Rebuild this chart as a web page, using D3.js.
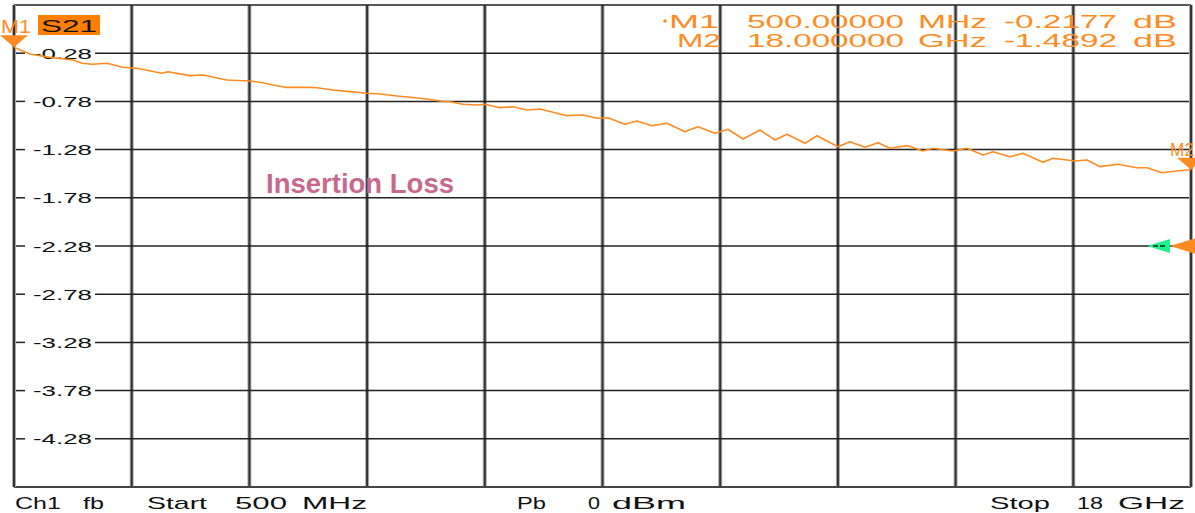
<!DOCTYPE html>
<html>
<head>
<meta charset="utf-8">
<script src="https://cdn.jsdelivr.net/npm/d3@7"></script>
<style>
  html, body { margin: 0; padding: 0; background: #fff; }
  svg { display: block; font-family: "Liberation Sans", Arial, sans-serif; }
</style>
</head>
<body>
<svg id="svg1" width="1195" height="513"></svg>
<script>
// trace: frequency (GHz) / S21 (dB)
const freqs = [0.5, 0.738, 1.035, 1.377, 1.511, 1.660, 1.883, 2.121, 2.329, 2.700, 2.790, 3.117, 3.310, 3.667, 4.009, 4.202, 4.351, 4.529, 4.901, 5.005,
  5.243, 5.496, 5.748, 5.942, 6.194, 6.388, 6.640, 6.834, 6.982, 7.176, 7.384, 7.503, 7.726, 7.919, 8.127, 8.321, 8.573, 8.722, 8.960, 9.168,
  9.332, 9.584, 9.763, 9.986, 10.209, 10.476, 10.670, 10.922, 11.116, 11.339, 11.592, 11.815, 11.993, 12.261, 12.439, 12.751, 12.930, 13.153, 13.346, 13.524,
  13.792, 14.015, 14.164, 14.461, 14.669, 14.907, 15.056, 15.309, 15.502, 15.799, 15.948, 16.275, 16.453, 16.647, 16.914, 17.197, 17.345, 17.568, 17.791, 18.0];
const s21 = [-0.2177, -0.288, -0.323, -0.351, -0.385, -0.395, -0.385, -0.426, -0.437, -0.488, -0.472, -0.513, -0.506, -0.558, -0.568, -0.586, -0.610, -0.634, -0.634, -0.638,
  -0.662, -0.679, -0.696, -0.703, -0.724, -0.737, -0.755, -0.776, -0.783, -0.810, -0.817, -0.810, -0.845, -0.835, -0.869, -0.859, -0.903, -0.928, -0.921, -0.955,
  -0.949, -1.018, -0.983, -1.032, -1.007, -1.094, -1.042, -1.111, -1.069, -1.170, -1.077, -1.180, -1.121, -1.215, -1.136, -1.250, -1.198, -1.256, -1.208, -1.266,
  -1.239, -1.294, -1.266, -1.294, -1.266, -1.336, -1.302, -1.354, -1.318, -1.412, -1.370, -1.398, -1.388, -1.457, -1.432, -1.468, -1.468, -1.520, -1.502, -1.4892];

const yTicks = [-0.28, -0.78, -1.28, -1.78, -2.28, -2.78, -3.28, -3.78, -4.28];
const yTickLabels = ['-0.28', '-0.78', '-1.28', '-1.78', '-2.28', '-2.78', '-3.28', '-3.78', '-4.28'];
const xGrid = [2.25, 4.0, 5.75, 7.5, 9.25, 11.0, 12.75, 14.5, 16.25];

const markers = [
  {name: 'M1', f: 0.5, db: -0.2177, fText: '500.00000', unit: 'MHz', dbText: '-0.2177'},
  {name: 'M2', f: 18.0, db: -1.4892, fText: '18.000000', unit: 'GHz', dbText: '-1.4892'}
];
const refLevel = -2.28;

const orange = '#ff8c22';
const svg = d3.select('#svg1');

const xScale = d3.scaleLinear().domain([0.5, 18]).range([14, 1191]);
const yScale = d3.scaleLinear().domain([0.22, -4.78]).range([5, 487]);

// vertical grid (thick grey with halo)
svg.append('g')
  .selectAll('line')
  .data(xGrid)
  .join('line')
  .attr('x1', d => xScale(d)).attr('x2', d => xScale(d))
  .attr('y1', yScale(0.22)).attr('y2', yScale(-4.78))
  .attr('stroke', '#aaa').attr('stroke-width', 4);
svg.append('g')
  .selectAll('line')
  .data(xGrid)
  .join('line')
  .attr('x1', d => xScale(d)).attr('x2', d => xScale(d))
  .attr('y1', yScale(0.22)).attr('y2', yScale(-4.78))
  .attr('stroke', '#333').attr('stroke-width', 2);

// horizontal grid, broken where the label sits
const hGrid = svg.append('g');
hGrid.selectAll('.tickL')
  .data(yTicks)
  .join('line')
  .attr('x1', 14).attr('x2', 25)
  .attr('y1', d => yScale(d)).attr('y2', d => yScale(d))
  .attr('stroke', '#222').attr('stroke-width', 1.5);
hGrid.selectAll('.tickR')
  .data(yTicks)
  .join('line')
  .attr('x1', 95).attr('x2', 1191)
  .attr('y1', d => yScale(d)).attr('y2', d => yScale(d))
  .attr('stroke', '#222').attr('stroke-width', 1.5);
hGrid.selectAll('text')
  .data(yTicks)
  .join('text')
  .attr('x', 33)
  .attr('y', d => yScale(d) + 5.5)
  .attr('textLength', 59)
  .attr('lengthAdjust', 'spacingAndGlyphs')
  .style('font-size', '15px')
  .style('fill', '#111')
  .text((d, i) => yTickLabels[i]);

// frame
svg.append('line').attr('x1', 14).attr('x2', 1191).attr('y1', 5).attr('y2', 5)
  .attr('stroke', '#222').attr('stroke-width', 1.5);
svg.append('line').attr('x1', 14).attr('x2', 1191).attr('y1', 487).attr('y2', 487)
  .attr('stroke', '#444').attr('stroke-width', 2);
[14, 1191].forEach(x => {
  svg.append('line').attr('x1', x).attr('x2', x).attr('y1', 5).attr('y2', 487)
    .attr('stroke', '#aaa').attr('stroke-width', 4);
  svg.append('line').attr('x1', x).attr('x2', x).attr('y1', 5).attr('y2', 487)
    .attr('stroke', '#333').attr('stroke-width', 2);
});

// trace
const line = d3.line()
  .x((d, i) => xScale(freqs[i]))
  .y(d => yScale(d));
svg.append('path')
  .datum(s21)
  .attr('d', line)
  .attr('fill', 'none')
  .attr('stroke', orange)
  .attr('stroke-width', 1.6)
  .attr('stroke-linejoin', 'round');

// label in plot
svg.append('text')
  .attr('x', 266).attr('y', 193)
  .attr('textLength', 188).attr('lengthAdjust', 'spacingAndGlyphs')
  .style('font-size', '27px').style('font-weight', 'bold')
  .style('fill', '#c8688a')
  .text('Insertion Loss');

// reference level arrows on right edge
const ry = yScale(refLevel);
svg.append('path')
  .attr('d', `M1147,${ry} L1170,${ry - 7} L1170,${ry + 7} Z`)
  .attr('fill', '#1ef08a');
svg.append('line').attr('x1', 1153).attr('x2', 1165).attr('y1', ry).attr('y2', ry)
  .attr('stroke', '#222').attr('stroke-width', 1.5).attr('stroke-dasharray', '5,2');
svg.append('path')
  .attr('d', `M1170,${ry} L1196,${ry - 8} L1196,${ry + 8} Z`)
  .attr('fill', orange);

// marker triangles + names (kept just inside the window)
markers.forEach((m, i) => {
  const mx = xScale(m.f), my = yScale(m.db);
  svg.append('path')
    .attr('d', `M${mx - 14},${my - 12} L${mx + 14},${my - 12} L${mx},${my} Z`)
    .attr('fill', orange);
  svg.append('text')
    .attr('x', i === 0 ? 1 : 1170).attr('y', my - 14)
    .attr('textLength', i === 0 ? 30 : 24).attr('lengthAdjust', 'spacingAndGlyphs')
    .style('font-size', '18px')
    .style('fill', orange)
    .text(m.name);
});

// S21 badge
svg.append('rect').attr('x', 38).attr('y', 15).attr('width', 62).attr('height', 20).attr('fill', '#ff8000');
svg.append('text').attr('x', 41).attr('y', 32)
  .attr('textLength', 56).attr('lengthAdjust', 'spacingAndGlyphs')
  .style('font-size', '17px').style('fill', '#111')
  .text('S21');

// marker readout, top right
const rowY = [28, 47];
const readout = svg.append('g').style('fill', orange).style('font-size', '19px');
readout.append('circle').attr('cx', 665).attr('cy', rowY[0] - 7).attr('r', 1.8).attr('fill', orange);
markers.forEach((m, i) => {
  const cols = [
    {t: m.name, x: i === 0 ? 669 : 677, w: i === 0 ? 50 : 44},
    {t: m.fText, x: 747, w: 157},
    {t: m.unit, x: 918, w: 69},
    {t: m.dbText, x: 1004, w: 113},
    {t: 'dB', x: 1133, w: 44}
  ];
  readout.selectAll(null)
    .data(cols)
    .join('text')
    .attr('x', d => d.x).attr('y', rowY[i])
    .attr('textLength', d => d.w).attr('lengthAdjust', 'spacingAndGlyphs')
    .text(d => d.t);
});

// status line at bottom
const footer = [
  {t: 'Ch1', x: 15, w: 46}, {t: 'fb', x: 83, w: 21}, {t: 'Start', x: 147, w: 60},
  {t: '500', x: 235, w: 52}, {t: 'MHz', x: 302, w: 65},
  {t: 'Pb', x: 517, w: 29}, {t: '0', x: 588, w: 12}, {t: 'dBm', x: 612, w: 74},
  {t: 'Stop', x: 990, w: 60}, {t: '18', x: 1077, w: 26}, {t: 'GHz', x: 1118, w: 67}
];
svg.append('g')
  .selectAll('text')
  .data(footer)
  .join('text')
  .attr('x', d => d.x).attr('y', 509)
  .attr('textLength', d => d.w).attr('lengthAdjust', 'spacingAndGlyphs')
  .style('font-size', '17px').style('fill', '#111')
  .text(d => d.t);
</script>
</body>
</html>
